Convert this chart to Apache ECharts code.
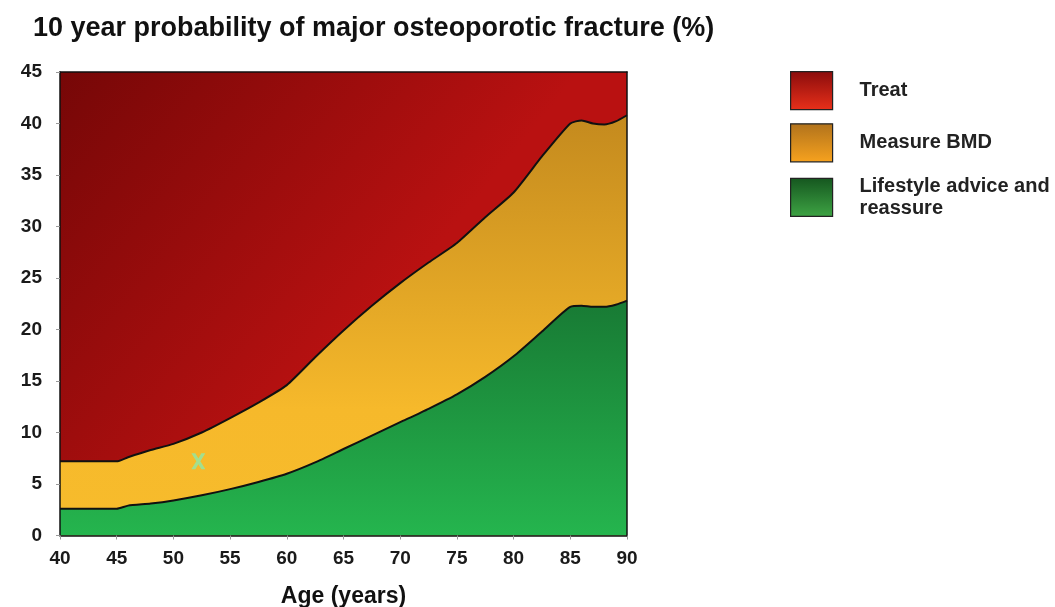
<!DOCTYPE html>
<html>
<head>
<meta charset="utf-8">
<title>10 year probability of major osteoporotic fracture</title>
<script src="https://cdn.jsdelivr.net/npm/echarts@6/dist/echarts.min.js"></script>
<style>
  html, body { margin: 0; padding: 0; background: #ffffff; }
  #chart { width: 1055px; height: 607px; }
</style>
</head>
<body>
<div id="chart"></div>
<script>
// Age (years) at which the thresholds are given
const ages = [40, 45, 46, 48, 50, 52.5, 55, 57.5, 60, 62.5, 65, 67.5, 70, 72.5, 75, 77.5, 80, 82.5, 85, 86, 87, 88, 89, 90];
// Upper assessment threshold: above it -> treat
const upperThreshold = [7.2, 7.2, 7.6, 8.3, 8.9, 10.0, 11.4, 12.9, 14.6, 17.3, 19.9, 22.3, 24.5, 26.5, 28.4, 30.9, 33.3, 36.8, 40.0, 40.3, 40.0, 39.9, 40.2, 40.8];
// Lower assessment threshold: below it -> lifestyle advice
const lowerThreshold = [2.6, 2.6, 2.9, 3.1, 3.4, 3.9, 4.5, 5.2, 6.0, 7.1, 8.4, 9.7, 11.0, 12.3, 13.7, 15.4, 17.4, 19.8, 22.2, 22.3, 22.2, 22.2, 22.4, 22.8];
// Ceiling of the probability scale
const scaleMax = 45;
// Patient's calculated position (age, probability)
const patientPoint = [52.2, 7.2];

const seriesNames = ['Treat', 'Measure BMD', 'Lifestyle advice and\nreassure'];
const xTicks = { min: 40, max: 90, interval: 5 };
const yTicks = { min: 0, max: 45, interval: 5 };

const G = echarts.graphic.LinearGradient;
const pair = (vals) => ages.map((a, i) => [a, vals[i]]);

const chart = echarts.init(document.getElementById('chart'), null, { renderer: 'canvas' });
const font = 'Arial, "Liberation Sans", Helvetica, sans-serif';

const option = {
  backgroundColor: '#ffffff',
  animation: false,
  title: {
    text: '10 year probability of major osteoporotic fracture (%)',
    left: 28,
    top: 10,
    textStyle: { fontFamily: font, fontWeight: 'bold', fontSize: 27, color: '#111' }
  },
  legend: {
    orient: 'vertical',
    left: 785,
    top: 66,
    itemWidth: 42,
    itemHeight: 38,
    itemGap: 13,
    icon: 'rect',
    selectedMode: false,
    itemStyle: { borderColor: '#222', borderWidth: 1.2 },
    textStyle: { fontFamily: font, fontWeight: 'bold', fontSize: 20, color: '#222', lineHeight: 22, padding: [0, 0, 0, 22] },
    data: [
      { name: seriesNames[0], itemStyle: { color: new G(0, 0, 0, 1, [{ offset: 0, color: '#8a0c0c' }, { offset: 1, color: '#e8301a' }]) } },
      { name: seriesNames[1], itemStyle: { color: new G(0, 0, 0, 1, [{ offset: 0, color: '#b0721c' }, { offset: 1, color: '#f7a21e' }]) } },
      { name: seriesNames[2], itemStyle: { color: new G(0, 0, 0, 1, [{ offset: 0, color: '#15561f' }, { offset: 1, color: '#3ea444' }]) } }
    ]
  },
  grid: { left: 60, right: 428, top: 72, bottom: 71.5, outerBoundsMode: 'none', containLabel: false },
  xAxis: [{
    type: 'value',
    min: xTicks.min, max: xTicks.max, interval: xTicks.interval,
    name: 'Age (years)',
    nameLocation: 'middle',
    nameGap: 50,
    nameTextStyle: { fontFamily: font, fontWeight: 'bold', fontSize: 23, color: '#111' },
    z: 10,
    axisLine: { show: true, lineStyle: { color: '#111', width: 1.5 } },
    axisTick: { show: true, length: 4, lineStyle: { color: '#999' } },
    axisLabel: { margin: 14, fontFamily: font, fontWeight: 'bold', fontSize: 19, color: '#1a1a1a' },
    splitLine: { show: false }
  }, {
    type: 'value', position: 'top',
    min: xTicks.min, max: xTicks.max, z: 10,
    axisLine: { show: true, onZero: false, lineStyle: { color: '#111', width: 1.5 } },
    axisTick: { show: false }, axisLabel: { show: false }, splitLine: { show: false }
  }],
  yAxis: [{
    type: 'value',
    min: yTicks.min, max: yTicks.max, interval: yTicks.interval,
    z: 10,
    axisLine: { show: true, onZero: false, lineStyle: { color: '#111', width: 1.5 } },
    axisTick: { show: true, length: 4, lineStyle: { color: '#999' } },
    axisLabel: { margin: 18, fontFamily: font, fontWeight: 'bold', fontSize: 19, color: '#1a1a1a' },
    splitLine: { show: false }
  }, {
    type: 'value', position: 'right',
    min: yTicks.min, max: yTicks.max, z: 10,
    axisLine: { show: true, onZero: false, lineStyle: { color: '#111', width: 1.5 } },
    axisTick: { show: false }, axisLabel: { show: false }, splitLine: { show: false }
  }],
  series: [
    {
      name: seriesNames[0],
      type: 'line',
      data: ages.map(a => [a, scaleMax]),
      showSymbol: false,
      lineStyle: { width: 0 },
      itemStyle: { color: '#b51010' },
      areaStyle: {
        opacity: 1,
        color: new G(0, 0, 0.55, 0.55, [{ offset: 0, color: '#760707' }, { offset: 1, color: '#b91111' }])
      },
      z: 2
    },
    {
      name: seriesNames[1],
      type: 'line',
      data: pair(upperThreshold),
      smooth: 0.2,
      showSymbol: false,
      lineStyle: { width: 2, color: '#111' },
      itemStyle: { color: '#e6a825' },
      areaStyle: {
        opacity: 1,
        color: new G(0, 0, 0, 1, [{ offset: 0, color: '#c48a1e' }, { offset: 0.7, color: '#f6b92b' }, { offset: 1, color: '#f7bc2c' }])
      },
      z: 3
    },
    {
      name: seriesNames[2],
      type: 'line',
      data: pair(lowerThreshold),
      smooth: 0.2,
      showSymbol: false,
      lineStyle: { width: 2, color: '#111' },
      itemStyle: { color: '#22a048' },
      areaStyle: {
        opacity: 1,
        color: new G(0, 0, 0, 1, [{ offset: 0, color: '#187a34' }, { offset: 1, color: '#25b54e' }])
      },
      z: 4
    },
    {
      name: 'patient',
      type: 'scatter',
      data: [patientPoint],
      symbol: 'path://M0,0 L4,0 L7,4.5 L10,0 L14,0 L9,7 L14,14 L10,14 L7,9.5 L4,14 L0,14 L5,7 Z',
      symbolSize: [14, 16],
      itemStyle: { color: '#8ee8a8' },
      z: 6
    }
  ]
};

chart.setOption(option);
</script>
</body>
</html>
